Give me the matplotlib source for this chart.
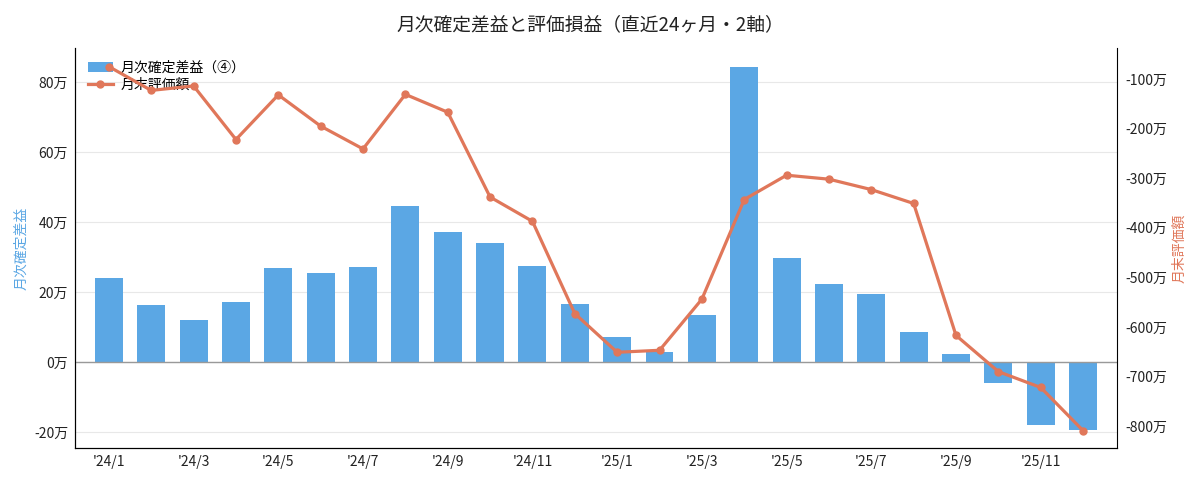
import matplotlib
matplotlib.use("Agg")
import matplotlib.pyplot as plt
from matplotlib.ticker import FuncFormatter
import numpy as np

plt.rcParams['font.family'] = ['Noto Sans CJK JP', 'DejaVu Sans']

months = ["'24/1", "'24/2", "'24/3", "'24/4", "'24/5", "'24/6", "'24/7", "'24/8",
          "'24/9", "'24/10", "'24/11", "'24/12", "'25/1", "'25/2", "'25/3", "'25/4",
          "'25/5", "'25/6", "'25/7", "'25/8", "'25/9", "'25/10", "'25/11", "'25/12"]
realized = [24.0, 16.5, 12.0, 17.1, 26.9, 25.5, 27.2, 44.6, 37.2, 34.1, 27.5, 16.7,
            7.2, 2.9, 13.5, 84.5, 29.8, 22.4, 19.5, 8.7, 2.4, -5.8, -17.8, -19.3]
valuation = [-75, -123, -114, -222, -132, -195, -241, -131, -167, -338, -387, -573,
             -651, -647, -544, -343, -294, -302, -323, -351, -617, -690, -722, -809]

bar_color = '#5BA7E4'
line_color = '#E0775A'

fig = plt.figure(figsize=(12, 4.8), dpi=100)
ax = fig.add_axes([0.0625, 0.0667, 0.8683, 0.8333])
x = np.arange(len(months))

ax.grid(axis='y', color='#e8e8e8', linewidth=0.8, zorder=0)
ax.set_axisbelow(True)
bars = ax.bar(x, realized, width=0.66, color=bar_color, zorder=2, label='月次確定差益（④）')
ax.axhline(0, color='#999999', linewidth=1.0, zorder=3)
ax.set_xlim(-0.8, len(months) - 0.2)
ax.set_ylim(-24.5, 89.8)
ax.set_yticks([-20, 0, 20, 40, 60, 80])
ax.yaxis.set_major_formatter(FuncFormatter(lambda v, p: f'{int(v)}万'))
ax.set_xticks(x[::2])
ax.set_xticklabels(months[::2])
ax.tick_params(axis='both', length=0, labelsize=10, colors='#222222')
ax.tick_params(axis='y', pad=5)
ax.tick_params(axis='x', pad=5)
ax.set_ylabel('月次確定差益', color=bar_color, fontsize=10, labelpad=4)
ax.spines['top'].set_visible(False)
ax.spines['right'].set_visible(False)

ax2 = ax.twinx()
line, = ax2.plot(x, valuation, color=line_color, linewidth=2.3, marker='o', markersize=5,
                 zorder=4, label='月末評価額')
ax2.set_ylim(-844, -37.5)
ax2.set_yticks([-800, -700, -600, -500, -400, -300, -200, -100])
ax2.yaxis.set_major_formatter(FuncFormatter(lambda v, p: f'{int(v)}万'))
ax2.tick_params(axis='y', length=0, labelsize=10, colors='#222222', pad=6)
ax2.set_ylabel('月末評価額', color=line_color, fontsize=10, labelpad=4)
ax2.spines['top'].set_visible(False)

ax.legend([bars, line], ['月次確定差益（④）', '月末評価額'], loc='upper left',
          frameon=False, fontsize=10, bbox_to_anchor=(0.0, 1.0), borderaxespad=0.5,
          handlelength=1.8, handletextpad=0.6, labelspacing=0.25)

fig.text(0.492, 0.948, '月次確定差益と評価損益（直近24ヶ月・2軸）', fontsize=13.5,
         ha='center', va='center', color='#222222')

fig.savefig('out.png', dpi=100)
